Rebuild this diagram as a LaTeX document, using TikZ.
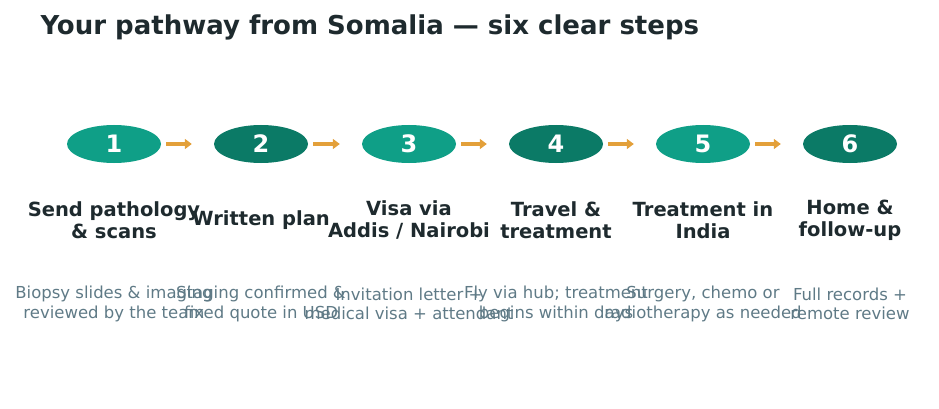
\documentclass[tikz,border=0pt]{standalone}
\usepackage{fontspec}
\setmainfont{DejaVu Sans}
\usetikzlibrary{arrows.meta,shapes.geometric}
\definecolor{tl}{HTML}{0F9F87}
\definecolor{td}{HTML}{0B7A66}
\definecolor{og}{HTML}{E3A03A}
\definecolor{ink}{HTML}{1E2A2E}
\definecolor{gr}{HTML}{5F7A86}
\begin{document}
\begin{tikzpicture}[x=1pt,y=-1pt,
 stp/.style={ellipse,minimum width=94pt,minimum height=38pt,inner sep=0pt,text=white,font=\bfseries\fontsize{24}{24}\selectfont},
 arr/.style={og,line width=3.5pt,-{Triangle[length=7pt,width=10pt]},shorten <=5pt,shorten >=22pt},
 lab/.style={align=center,text=ink,font=\bfseries\fontsize{19.5}{22}\selectfont},
 desc/.style={align=center,text=gr,font=\fontsize{16.5}{19.5}\selectfont}]
\useasboundingbox (0,0) rectangle (939,409);
\node[anchor=west,text=ink,font=\bfseries\fontsize{26}{26}\selectfont] (t) at (37,27) {Your pathway from Somalia — six clear steps};
\foreach \i/\x/\c/\l/\d in {1/114/tl/{Send pathology\\\& scans}/{Biopsy slides \& imaging\\reviewed by the team},
 2/261/td/{Written plan}/{Staging confirmed \&\\fixed quote in USD},
 3/409/tl/{Visa via\\Addis / Nairobi}/{Invitation letter +\\medical visa + attendant},
 4/556/td/{Travel \&\\treatment}/{Fly via hub; treatment\\begins within days},
 5/703/tl/{Treatment in\\India}/{Surgery, chemo or\\radiotherapy as needed},
 6/850/td/{Home \&\\follow-up}/{Full records +\\remote review}}{
 \node[stp,fill=\c] (s\i) at (\x,144) {\i};
 \node[lab] (l\i) at (\x,220) {\l};
 \node[desc] (d\i) at (\x,304) {\d};
}
\foreach \a/\b in {1/2,2/3,3/4,4/5,5/6}{\draw[arr] (s\a) -- (s\b);}
\end{tikzpicture}
\end{document}
